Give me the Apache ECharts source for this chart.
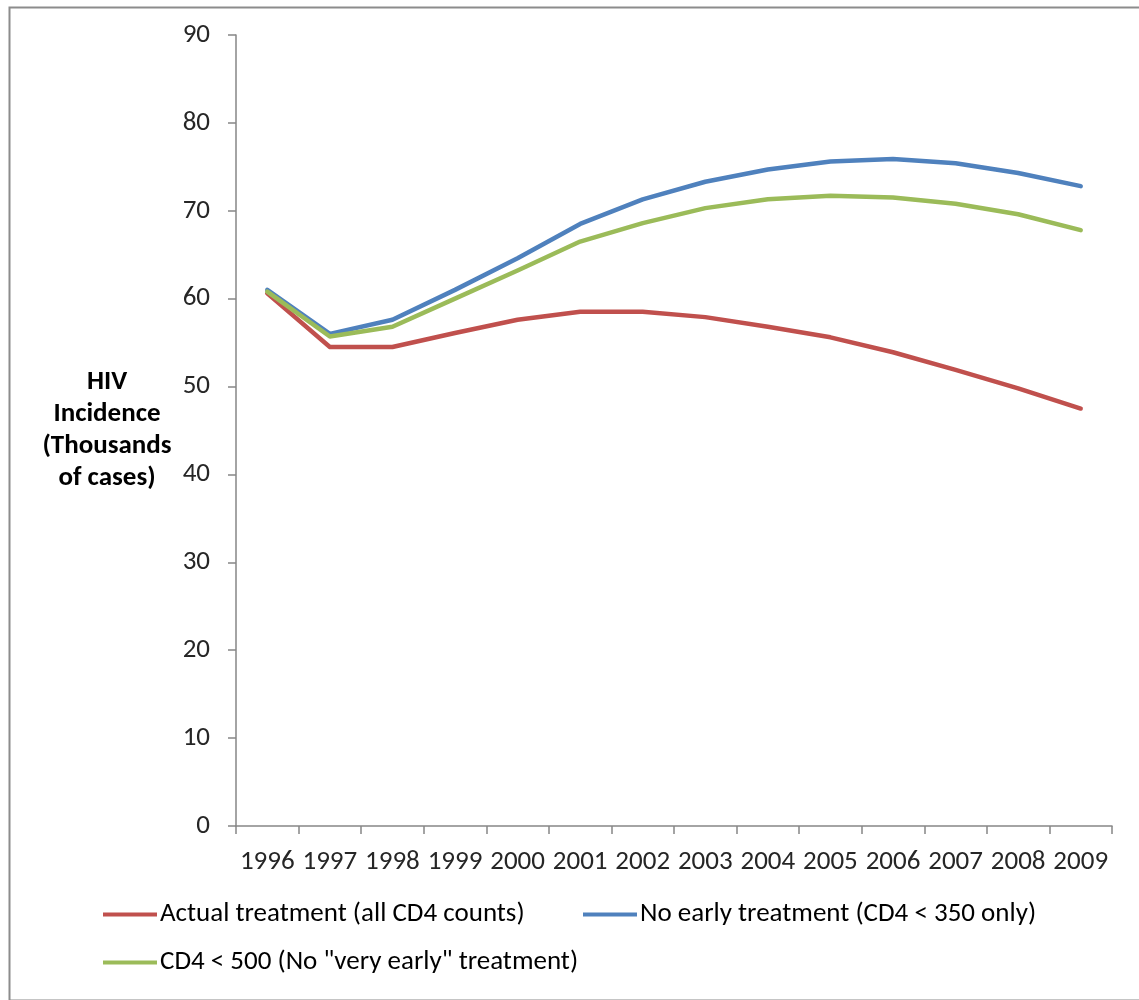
<!DOCTYPE html>
<html>
<head>
<meta charset="utf-8">
<script src="https://cdn.jsdelivr.net/npm/echarts@6/dist/echarts.min.js"></script>
<style>
  html, body { margin: 0; padding: 0; background: #fff; }
  #chart { width: 1139px; height: 1000px; }
</style>
</head>
<body>
<div id="chart"></div>
<script>
// Years on the category axis
const years = ['1996','1997','1998','1999','2000','2001','2002','2003','2004','2005','2006','2007','2008','2009'];

// HIV incidence, thousands of cases
const actualTreatment = [60.6, 54.5, 54.5, 56.1, 57.6, 58.5, 58.5, 57.9, 56.8, 55.6, 53.9, 51.9, 49.8, 47.5];
const noEarlyTreatment = [61.0, 56.0, 57.6, 61.0, 64.6, 68.5, 71.3, 73.3, 74.7, 75.6, 75.9, 75.4, 74.3, 72.8];
const cd4Under500 = [60.8, 55.7, 56.8, 60.0, 63.2, 66.5, 68.6, 70.3, 71.3, 71.7, 71.5, 70.8, 69.6, 67.8];

const seriesNames = [
  'Actual treatment (all CD4 counts)',
  'No early treatment (CD4 < 350 only)',
  'CD4 < 500 (No "very early" treatment)'
];

const yTicks = { min: 0, max: 90, interval: 10 };

const FONT = 'Carlito, Lato, "Open Sans", sans-serif';
const colors = ['#C0504D', '#4F81BD', '#9BBB59'];

const chart = echarts.init(document.getElementById('chart'), null, { renderer: 'canvas' });

function lineSeries(name, data, color) {
  return {
    name: name,
    type: 'line',
    data: data,
    symbol: 'none',
    smooth: false,
    lineStyle: { color: color, width: 4.5, join: 'round', cap: 'round' },
    itemStyle: { color: color },
    z: 3
  };
}

function legendFor(name, left, top) {
  return {
    data: [name],
    left: left,
    top: top,
    icon: 'rect',
    itemWidth: 54,
    itemHeight: 4,
    itemGap: 0,
    padding: 0,
    textStyle: { fontFamily: FONT, fontSize: 27, color: '#000', padding: [0, 0, 0, -2] }
  };
}

chart.setOption({
  backgroundColor: '#fff',
  animation: false,
  grid: { left: 236, right: 27, top: 35, bottom: 174, containLabel: false },
  legend: [
    legendFor(seriesNames[0], 103, 901),
    legendFor(seriesNames[1], 583, 901),
    legendFor(seriesNames[2], 103, 949)
  ],
  xAxis: {
    type: 'category',
    data: years,
    boundaryGap: true,
    axisLine: { lineStyle: { color: '#868686', width: 1.5 } },
    axisTick: { show: true, interval: 0, length: 8, alignWithLabel: false, lineStyle: { color: '#868686', width: 1.5 } },
    axisLabel: { interval: 0, margin: 23, fontFamily: FONT, fontSize: 27, color: '#262626' },
    splitLine: { show: false }
  },
  yAxis: {
    type: 'value',
    min: yTicks.min,
    max: yTicks.max,
    interval: yTicks.interval,
    name: 'HIV\nIncidence\n(Thousands\nof cases)',
    nameLocation: 'middle',
    nameRotate: 0,
    nameGap: 129,
    nameTextStyle: {
      fontFamily: FONT, fontSize: 27, fontWeight: 'bold', color: '#000',
      align: 'center', verticalAlign: 'middle', lineHeight: 32
    },
    axisLine: { show: true, lineStyle: { color: '#868686', width: 1.5 } },
    axisTick: { show: true, length: 8, lineStyle: { color: '#868686', width: 1.5 } },
    axisLabel: { margin: 26, fontFamily: FONT, fontSize: 27, color: '#262626' },
    splitLine: { show: false }
  },
  series: [
    lineSeries(seriesNames[0], actualTreatment, colors[0]),
    lineSeries(seriesNames[1], noEarlyTreatment, colors[1]),
    lineSeries(seriesNames[2], cd4Under500, colors[2])
  ],
  graphic: [{
    type: 'rect',
    left: 7, top: 5,
    shape: { width: 1140, height: 993 },
    style: { fill: 'none', stroke: '#8c8c8c', lineWidth: 2 },
    silent: true
  }]
});
</script>
</body>
</html>
